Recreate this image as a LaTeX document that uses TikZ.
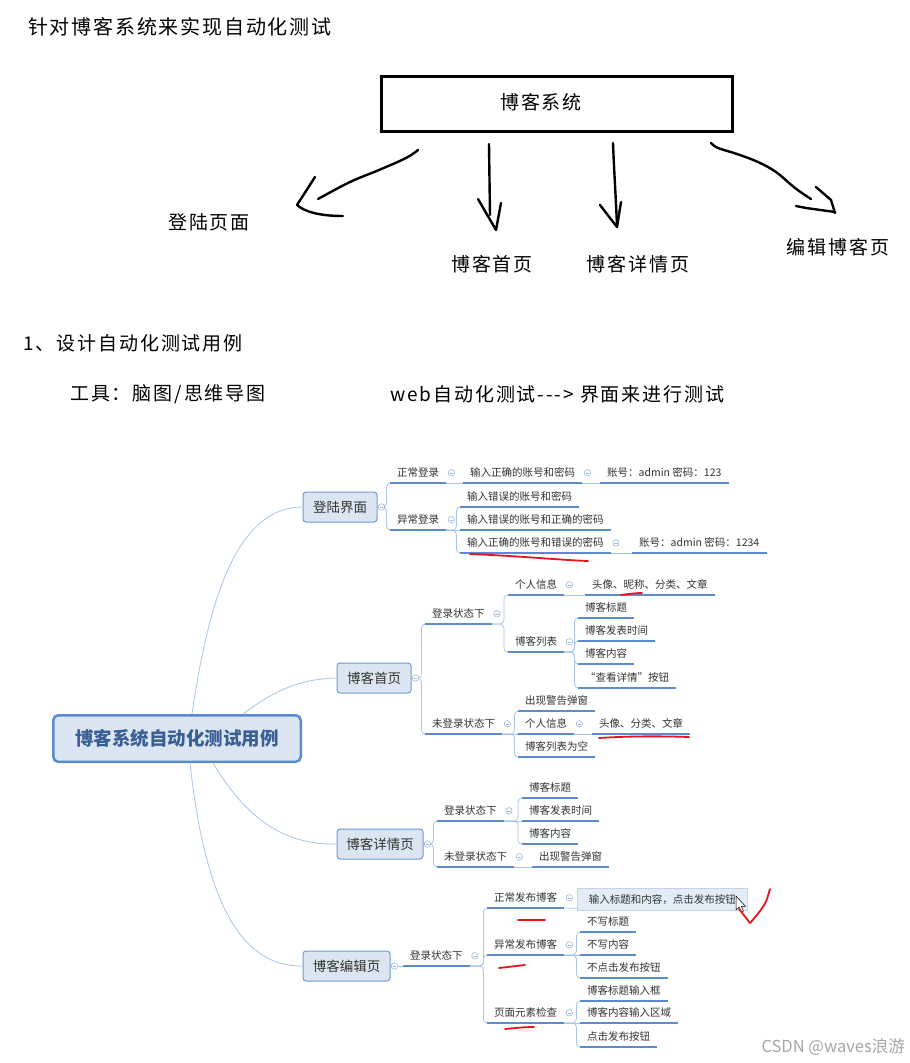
\documentclass[tikz,border=0pt]{standalone}
\usepackage{fontspec}
\newfontfamily\cjk{Noto Sans CJK SC}
\newfontfamily\hand[LetterSpace=10]{Noto Sans CJK SC}
\newfontfamily\handt[LetterSpace=9]{Noto Sans CJK SC}
\definecolor{ul}{HTML}{5B8BD0}
\definecolor{cn}{HTML}{A9C5EB}
\definecolor{bxfill}{HTML}{DCE6F2}
\definecolor{bxdraw}{HTML}{6E9AD4}
\definecolor{rootdraw}{HTML}{5A8AD0}
\definecolor{roottext}{HTML}{3A5F94}
\definecolor{circ}{HTML}{9FB8D8}
\definecolor{txt}{HTML}{333333}
\definecolor{redc}{HTML}{E8141C}
\definecolor{hlfill}{HTML}{E3EDF7}
\definecolor{hldraw}{HTML}{C3D3E6}
\tikzset{
 topic/.style={font=\cjk\fontsize{10.5}{12}\selectfont, text=txt, inner xsep=7pt, inner ysep=6pt, text height=8pt, text depth=0pt, anchor=south west},
 uline/.style={draw=ul, line width=1.6pt},
 cline/.style={draw=cn, line width=0.8pt, rounded corners=4pt},
 mline/.style={draw=cn, line width=0.8pt},
 mainbox/.style={draw=bxdraw, fill=bxfill, line width=1pt, rounded corners=3pt, minimum height=30pt, inner xsep=0pt, font=\cjk\fontsize{13.5}{15}\selectfont, text=txt},
 dot/.style={circle, draw=circ, fill=white, line width=0.6pt, inner sep=0pt, minimum size=6.5pt, path picture={\draw[circ, line width=0.5pt] ([xshift=-1.7pt]path picture bounding box.center) -- ([xshift=1.7pt]path picture bounding box.center);}},
 hl/.style={line width=2.4pt, line cap=round, line join=round},
 redm/.style={draw=redc, line width=1.8pt, line cap=round, line join=round},
 htext/.style={font=\hand\fontsize{19}{22}\selectfont, inner sep=0pt},
 hlbox/.style={fill=hlfill, draw=hldraw, line width=0.6pt, inner xsep=11.5pt, inner ysep=0pt, minimum height=22pt, text height=8pt, text depth=0pt, font=\cjk\fontsize{10.5}{12}\selectfont, text=txt},
}
\begin{document}
\begin{tikzpicture}[x=1pt,y=-1pt]
\useasboundingbox (0,0) rectangle (910,1063);
\fill[white] (0,0) rectangle (910,1063);

% ---------- top hand drawing ----------
\node[anchor=west, font=\handt\fontsize{20}{24}\selectfont, inner sep=0pt] (title) at (28,27) {针对博客系统来实现自动化测试};
\node[draw, line width=3pt, minimum width=351pt, minimum height=55pt, inner sep=0pt] (sys) at (557,104) {};
\node[htext] (syst) at (541,102) {博客系统};
\node[htext] (l1) at (209,222) {登陆页面};
\node[htext] (l2) at (492,264) {博客首页};
\node[htext] (l3) at (638,264) {博客详情页};
\node[htext] (l4) at (838,247) {编辑博客页};

\draw[hl] plot[smooth, tension=0.6] coordinates {(418,150) (406,158) (379,170) (350,182) (318,199)};
\draw[hl] (315,177) -- (297,205) .. controls (305,212) and (320,216) .. (343,216);
\draw[hl] (489,144) -- (490,215);
\draw[hl] (478,199) -- (496,230) -- (501,203);
\draw[hl] (613,143) .. controls (614,170) and (616,200) .. (617,226);
\draw[hl] (600,205) -- (617,227) -- (621,202);
\draw[hl] plot[smooth, tension=0.6] coordinates {(711,143) (718,148) (737,154) (758,162) (776,172) (795,188) (811,199)};
\draw[hl] (816,187) -- (831,200) -- (835,213);
\draw[hl] (796,206) -- (806,208) -- (835,212);

\node[htext, anchor=west] (s1) at (23,343) {1、设计自动化测试用例};
\node[htext, anchor=west] (s2) at (70,394) {工具：脑图/思维导图};
\node[htext, anchor=west] (s3) at (390,394) {web自动化测试---> 界面来进行测试};

% ---------- mind map ----------
\node[mainbox, minimum width=74pt] (dl) at (340,507) {登陆界面};
\node[mainbox, minimum width=74pt] (sy) at (374,678) {博客首页};
\node[mainbox, minimum width=86pt] (xq) at (380,844) {博客详情页};
\node[mainbox, minimum width=87pt] (bj) at (346.5,966) {博客编辑页};

% login group
\node[topic] (zc) at (390,483) {正常登录};
\node[topic] (zc1) at (463,483) {输入正确的账号和密码};
\node[topic] (zc2) at (600,483) {账号：admin 密码：123};
\node[topic] (yc) at (390,530) {异常登录};
\node[topic] (yc1) at (460,507) {输入错误的账号和密码};
\node[topic] (yc2) at (460,530) {输入错误的账号和正确的密码};
\node[topic] (yc3) at (460,553) {输入正确的账号和错误的密码};
\node[topic] (yc4) at (632,553) {账号：admin 密码：1234};

% home group
\node[topic] (a) at (425,624) {登录状态下};
\node[topic] (a1) at (508,595) {个人信息};
\node[topic] (a1x) at (585,595) {头像、昵称、分类、文章};
\node[topic] (a2) at (508,652) {博客列表};
\node[topic] (a21) at (578,618) {博客标题};
\node[topic] (a22) at (578,641) {博客发表时间};
\node[topic] (a23) at (578,664) {博客内容};
\node[topic] (a24) at (578,688) {“查看详情”按钮};
\node[topic] (b) at (425,734) {未登录状态下};
\node[topic] (b1) at (518,711) {出现警告弹窗};
\node[topic] (b2) at (518,734) {个人信息};
\node[topic] (b2x) at (592,734) {头像、分类、文章};
\node[topic] (b3) at (518,757) {博客列表为空};

% detail group
\node[topic] (c) at (437,821) {登录状态下};
\node[topic] (c1) at (522,798) {博客标题};
\node[topic] (c2) at (522,821) {博客发表时间};
\node[topic] (c3) at (522,844) {博客内容};
\node[topic] (d) at (437,867) {未登录状态下};
\node[topic] (d1) at (532,867) {出现警告弹窗};

% edit group
\node[topic] (e) at (403,966) {登录状态下};
\node[topic] (e1) at (487,908) {正常发布博客};
\node[hlbox, anchor=west] (e1x) at (577,899) {输入标题和内容，点击发布按钮};
\node[topic] (e2) at (487,955) {异常发布博客};
\node[topic] (f1) at (580,932) {不写标题};
\node[topic] (f2) at (580,955) {不写内容};
\node[topic] (f3) at (580,978) {不点击发布按钮};
\node[topic] (e3) at (487,1023) {页面元素检查};
\node[topic] (g1) at (580,1001) {博客标题输入框};
\node[topic] (g2) at (580,1023) {博客内容输入区域};
\node[topic] (g3) at (580,1047) {点击发布按钮};

% root
\node[draw=rootdraw, fill=bxfill, line width=2.5pt, rounded corners=5pt, minimum width=247.5pt, minimum height=46.5pt, inner sep=0pt, font=\cjk\bfseries\fontsize{18.5}{20}\selectfont, text=roottext] (root) at (177,738.5) {博客系统自动化测试用例};

% root curves
\draw[mline] ([xshift=15pt]root.north) .. controls (208,605) and (235,507) .. (dl.west);
\draw[mline] ([xshift=66pt]root.north) .. controls (275,690) and (300,679) .. (sy.west);
\draw[mline] ([xshift=36pt]root.south) .. controls (250,825) and (290,845) .. (xq.west);
\draw[mline] ([xshift=13pt]root.south) .. controls (205,900) and (240,967) .. (bj.west);

% main dots
\path ([xshift=4pt]dl.east) coordinate (pdl);
\path ([xshift=4pt]sy.east) coordinate (psy);
\path ([xshift=4pt]xq.east) coordinate (pxq);
\path ([xshift=4pt]bj.east) coordinate (pbj);

% connections
\draw[cline] (pdl) -- ++(5,0) |- (zc.south west);
\draw[cline] (pdl) -- ++(5,0) |- (yc.south west);
\draw[mline] (zc.south east) -- (zc1.south west);
\draw[mline] (zc1.south east) -- (zc2.south west);
\draw[cline] (yc.south east) -- ++(10,0) |- (yc1.south west);
\draw[mline] (yc.south east) -- (yc2.south west);
\draw[cline] (yc.south east) -- ++(10,0) |- (yc3.south west);
\draw[mline] (yc3.south east) -- (yc4.south west);

\draw[cline] (psy) -- ++(6,0) |- (a.south west);
\draw[cline] (psy) -- ++(6,0) |- (b.south west);
\draw[cline] (a.south east) -- ++(12,0) |- (a1.south west);
\draw[cline] (a.south east) -- ++(12,0) |- (a2.south west);
\draw[mline] (a1.south east) -- (a1x.south west);
\foreach \k in {a21,a22,a23,a24} \draw[cline] (a2.south east) -- ++(10,0) |- (\k.south west);
\draw[cline] (b.south east) -- ++(12,0) |- (b1.south west);
\draw[mline] (b.south east) -- (b2.south west);
\draw[cline] (b.south east) -- ++(12,0) |- (b3.south west);
\draw[mline] (b2.south east) -- (b2x.south west);

\draw[cline] (pxq) -- ++(6,0) |- (c.south west);
\draw[cline] (pxq) -- ++(6,0) |- (d.south west);
\draw[cline] (c.south east) -- ++(14,0) |- (c1.south west);
\draw[mline] (c.south east) -- (c2.south west);
\draw[cline] (c.south east) -- ++(14,0) |- (c3.south west);
\draw[mline] (d.south east) -- (d1.south west);

\draw[mline] (pbj) -- (e.south west);
\foreach \k in {e1,e2,e3} \draw[cline] (e.south east) -- ++(13.5,0) |- (\k.south west);
\draw[mline] (e1.south east) -- ([yshift=2pt]e1x.south west);
\draw[cline] (e2.south east) -- ++(12,0) |- (f1.south west);
\draw[mline] (e2.south east) -- (f2.south west);
\draw[cline] (e2.south east) -- ++(12,0) |- (f3.south west);
\draw[cline] (e3.south east) -- ++(12,0) |- (g1.south west);
\draw[mline] (e3.south east) -- (g2.south west);
\draw[cline] (e3.south east) -- ++(12,0) |- (g3.south west);

% underlines
\foreach \n in {zc,zc1,zc2,yc,yc1,yc2,yc3,yc4,a,a1,a1x,a2,a21,a22,a23,a24,b,b1,b2,b2x,b3,c,c1,c2,c3,d,d1,e,e1,e2,e3,f1,f2,f3,g1,g2,g3}
  \draw[uline] (\n.south west) -- (\n.south east);

% dots
\node[dot] (ddl) at (pdl) {};
\node[dot] (dsy) at (psy) {};
\node[dot] (dxq) at (pxq) {};
\node[dot] (dbj) at (pbj) {};
\foreach \n in {zc,zc1,yc,yc3,a,a1,a2,b,b2,c,d,e,e1,e2,e3}
  \node[dot] (dot-\n) at ([xshift=5pt]\n.east) {};

% cursor
\draw[fill=white, draw=black, line width=0.5pt, line join=round] (736,896) -- (736,910) -- (739.2,907) -- (741.5,912) -- (743.5,911) -- (741.3,906.3) -- (745.5,906.3) -- cycle;

% red marks
\draw[redm] (470,554) .. controls (520,556) and (560,560) .. (588,561);
\draw[redm] (621,595) .. controls (628,594) and (636,593) .. (642,593);
\draw[redm] (599,738) .. controls (630,736) and (660,736) .. (689,737);
\draw[redm] (518,920) -- (545,920);
\draw[redm] (499,968) .. controls (508,967) and (516,966) .. (525,965);
\draw[redm] (505,1029) .. controls (515,1028) and (525,1027) .. (534,1027);
\draw[redm] (739,909) -- (750,923) .. controls (757,915) and (764,907) .. (767,899) -- (770,889);

% watermark
\node[anchor=east, font=\cjk\fontsize{16.5}{18}\selectfont, text=gray!70, inner sep=0pt] (wm) at (905,1047) {CSDN @waves浪游};
\end{tikzpicture}
\end{document}
